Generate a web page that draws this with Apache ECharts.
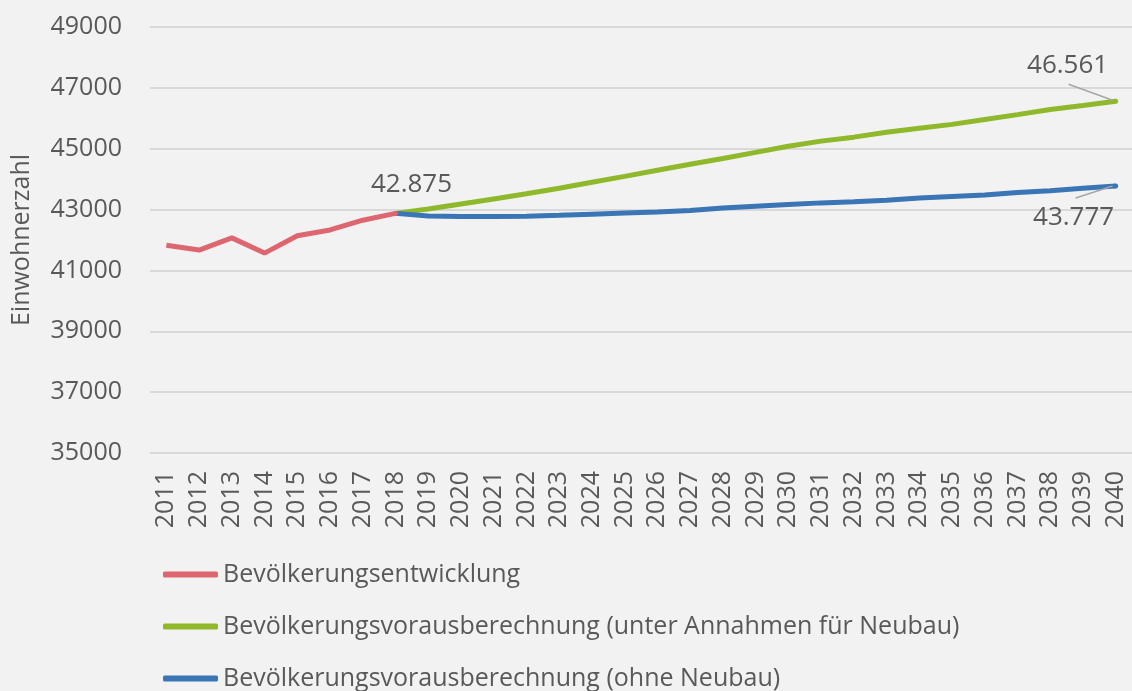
<!DOCTYPE html>
<html>
<head>
<meta charset="utf-8">
<script src="https://cdn.jsdelivr.net/npm/echarts@6/dist/echarts.min.js"></script>
<style>
  html, body { margin: 0; padding: 0; background: #f2f2f2; }
  #chart { width: 1132px; height: 691px; }
</style>
</head>
<body>
<div id="chart"></div>
<script>
// Jahre der x-Achse
const years = ['2011','2012','2013','2014','2015','2016','2017','2018','2019','2020',
  '2021','2022','2023','2024','2025','2026','2027','2028','2029','2030',
  '2031','2032','2033','2034','2035','2036','2037','2038','2039','2040'];

// Bevölkerungsentwicklung 2011–2018
const entwicklung = [41830, 41670, 42070, 41570, 42140, 42330, 42650, 42875];

// Vorausberechnung mit Neubau 2018–2040
const mitNeubau = [42875, 43020, 43180, 43350, 43520, 43700, 43900, 44090, 44290, 44490,
  44680, 44880, 45080, 45250, 45380, 45540, 45670, 45800, 45960, 46120, 46290, 46420, 46561];

// Vorausberechnung ohne Neubau 2018–2040
const ohneNeubau = [42875, 42790, 42770, 42770, 42780, 42810, 42850, 42890, 42920, 42970,
  43050, 43110, 43170, 43220, 43260, 43310, 43380, 43430, 43480, 43560, 43620, 43700, 43777];

// y-Achse
const yMin = 35000, yMax = 49000, yStep = 2000;

const seriesNames = [
  'Bevölkerungsentwicklung',
  'Bevölkerungsvorausberechnung (unter Annahmen für Neubau)',
  'Bevölkerungsvorausberechnung (ohne Neubau)'
];
const colors = ['#de6670', '#8fb82b', '#3a75b6'];

const FONT = 'Open Sans';
const TEXT = '#595959';

// Zahl im deutschen Format mit Tausenderpunkt
function deNum(v) {
  const t = Math.floor(v / 1000), r = v % 1000;
  return t + '.' + String(r).padStart(3, '0');
}

const startIdx = years.indexOf('2018');
const pad = (n) => new Array(n).fill(null);
const redData = entwicklung.concat(pad(years.length - entwicklung.length));
const greenData = pad(startIdx).concat(mitNeubau);
const blueData = pad(startIdx).concat(ohneNeubau);
const lastIdx = years.length - 1;

function withLabel(arr, idx, labelOpt) {
  return arr.map((v, i) => {
    if (i !== idx || v == null) return v;
    return {
      value: v,
      symbolSize: 5,
      label: Object.assign({
        show: true,
        position: 'inside',
        formatter: (p) => deNum(p.value),
        fontFamily: FONT,
        fontSize: 26,
        color: TEXT
      }, labelOpt)
    };
  });
}

const lineBase = {
  type: 'line',
  symbol: 'circle',
  symbolSize: 0,
  showSymbol: true,
  connectNulls: false,
  smooth: false,
  z: 3
};

const chart = echarts.init(document.getElementById('chart'), null, { renderer: 'canvas' });

chart.setOption({
  backgroundColor: '#f2f2f2',
  animation: false,
  color: colors,
  grid: {
    left: 150, right: 0, top: 27, bottom: 238,
    containLabel: false,
    outerBoundsMode: 'none'
  },
  legend: {
    orient: 'vertical',
    left: 163,
    top: 561,
    height: 220,
    padding: 0,
    itemWidth: 55,
    itemHeight: 6,
    itemGap: 25,
    icon: 'roundRect',
    textStyle: { fontFamily: FONT, fontSize: 25, color: TEXT, lineHeight: 27 },
    data: seriesNames
  },
  xAxis: {
    type: 'category',
    data: years,
    boundaryGap: true,
    axisLine: { show: false },
    axisTick: { show: false },
    axisLabel: {
      rotate: 90,
      interval: 0,
      margin: 18,
      fontFamily: FONT,
      fontSize: 25,
      color: TEXT
    }
  },
  yAxis: {
    type: 'value',
    min: yMin,
    max: yMax,
    interval: yStep,
    name: 'Einwohnerzahl',
    nameLocation: 'middle',
    nameGap: 116,
    nameTextStyle: { fontFamily: FONT, fontSize: 25, color: TEXT },
    axisLine: { show: false },
    axisTick: { show: false },
    axisLabel: {
      margin: 28,
      fontFamily: FONT,
      fontSize: 25,
      color: TEXT,
      formatter: (v) => String(v)
    },
    splitLine: { lineStyle: { color: '#d9d9d9', width: 2 } }
  },
  series: [
    Object.assign({}, lineBase, {
      name: seriesNames[0],
      data: withLabel(redData, startIdx, { offset: [16, -29] }),
      lineStyle: { width: 5, color: colors[0] },
      itemStyle: { color: colors[0] },
      z: 4
    }),
    Object.assign({}, lineBase, {
      name: seriesNames[1],
      data: withLabel(greenData, lastIdx, { offset: [-48, -36] }),
      lineStyle: { width: 5, color: colors[1] },
      itemStyle: { color: colors[1] }
    }),
    Object.assign({}, lineBase, {
      name: seriesNames[2],
      data: withLabel(blueData, lastIdx, { offset: [-42, 32] }),
      lineStyle: { width: 5, color: colors[2] },
      itemStyle: { color: colors[2] }
    })
  ]
});

// Hinweislinien von den Endwerten zu ihren Beschriftungen
const pG = chart.convertToPixel({ xAxisIndex: 0, yAxisIndex: 0 }, [lastIdx, mitNeubau[mitNeubau.length - 1]]);
const pB = chart.convertToPixel({ xAxisIndex: 0, yAxisIndex: 0 }, [lastIdx, ohneNeubau[ohneNeubau.length - 1]]);
const guide = { stroke: '#a6a6a6', lineWidth: 1.5 };
chart.setOption({
  graphic: [
    { type: 'line', z: 10, shape: { x1: pG[0] - 47, y1: pG[1] - 17, x2: pG[0] - 3, y2: pG[1] - 1 }, style: guide },
    { type: 'line', z: 10, shape: { x1: pB[0] - 40, y1: pB[1] + 12, x2: pB[0] - 3, y2: pB[1] }, style: guide }
  ]
});
</script>
</body>
</html>
